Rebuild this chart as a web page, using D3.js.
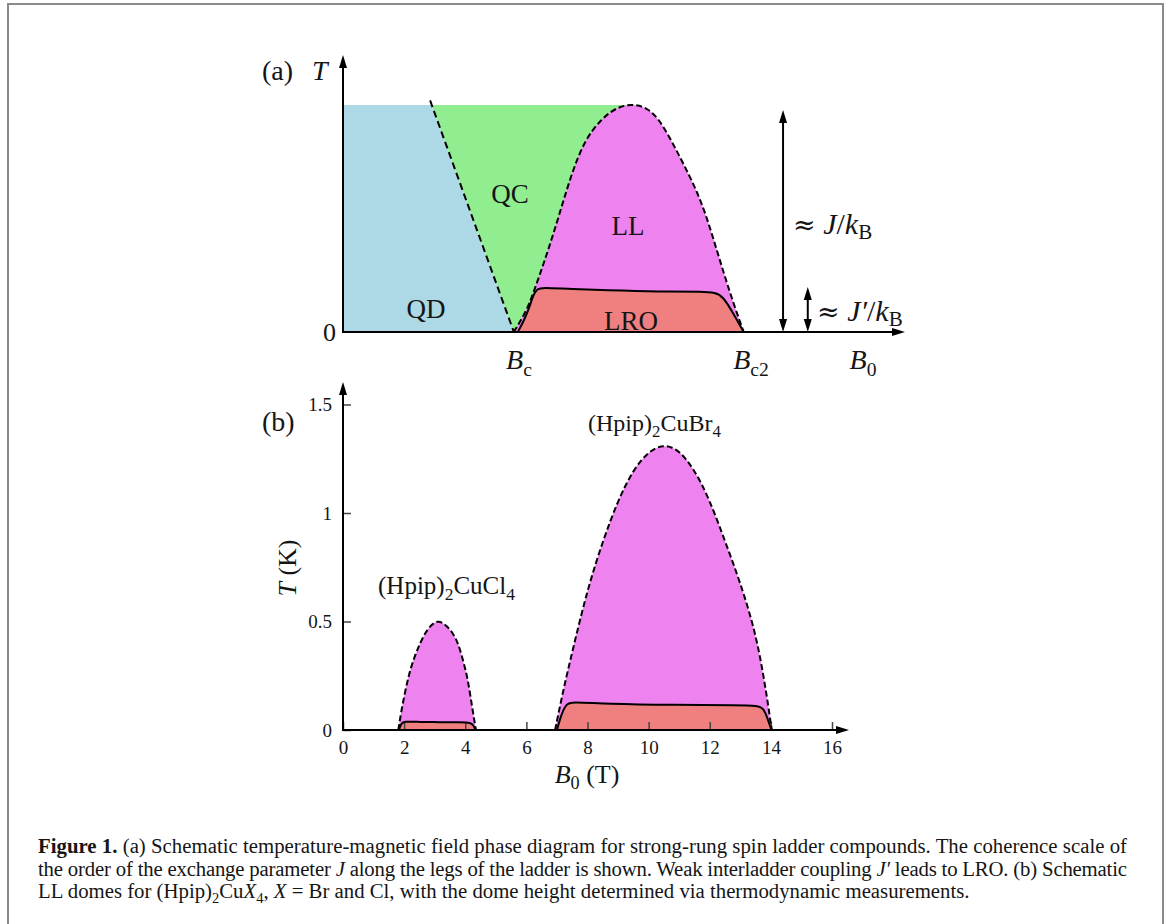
<!DOCTYPE html>
<html>
<head>
<meta charset="utf-8">
<script src="https://cdn.jsdelivr.net/npm/d3@7"></script>
<style>
	body { margin: 0; background: #fff; }
	svg text { font-family: "Liberation Serif", "DejaVu Serif", serif; fill: #151515; }
</style>
</head>
<body>
<svg id="fig" width="1167" height="924"></svg>
<script>
// ---- panel (a): schematic phase diagram, field and temperature in arbitrary units ----
const aBc = 0.304;
const aTop = 1;
const aCrossover = [[0.155, 1.02], [0.304, 0]];
const aDome = [[0.304, 0], [0.316, 0.05], [0.33, 0.111], [0.351, 0.258], [0.371, 0.405], [0.389, 0.552],
	[0.407, 0.699], [0.43, 0.846], [0.46, 0.94], [0.487, 0.99], [0.514, 1.005], [0.54, 0.99],
	[0.562, 0.94], [0.585, 0.84], [0.606, 0.74], [0.63, 0.62], [0.648, 0.5], [0.664, 0.37],
	[0.68, 0.24], [0.697, 0.11], [0.713, 0]];
const aLRO = [[0.311, 0], [0.322, 0.05], [0.332, 0.11], [0.338, 0.16], [0.345, 0.19], [0.355, 0.196],
	[0.4, 0.19], [0.5, 0.182], [0.58, 0.177], [0.64, 0.178], [0.662, 0.174], [0.676, 0.158],
	[0.695, 0.08], [0.713, 0]];
const aScaleArrows = [{ x: 0.783, t: 0.978 }, { x: 0.827, t: 0.198 }];

// ---- panel (b): LL domes of (Hpip)2CuX4 ----
const bXTicks = [0, 2, 4, 6, 8, 10, 12, 14, 16];
const bYTicks = [0, 0.5, 1, 1.5];
const clDome = [[1.81, 0], [1.92, 0.1], [2.14, 0.25], [2.32, 0.33], [2.52, 0.4], [2.75, 0.465], [3.09, 0.512],
	[3.4, 0.48], [3.6, 0.445], [3.77, 0.4], [3.93, 0.32], [4.08, 0.24], [4.23, 0.1], [4.35, 0]];
const clLRO = [[1.83, 0], [1.9, 0.028], [1.97, 0.04], [2.5, 0.037], [3.2, 0.036], [3.8, 0.035],
	[4.2, 0.035], [4.28, 0.018], [4.34, 0]];
const brDome = [[6.94, 0], [7.2, 0.18], [7.5, 0.36], [8.0, 0.65], [8.5, 0.87], [9.0, 1.06], [9.5, 1.2],
	[10.0, 1.285], [10.5, 1.318], [11.0, 1.29], [11.5, 1.2], [12.0, 1.06], [12.5, 0.87], [13.0, 0.68],
	[13.5, 0.45], [13.8, 0.22], [14.03, 0]];
const brLRO = [[7.0, 0], [7.15, 0.075], [7.3, 0.118], [7.45, 0.13], [8.6, 0.12], [10.8, 0.115],
	[13.0, 0.115], [13.55, 0.112], [13.76, 0.102], [13.9, 0.05], [14.02, 0]];

const colors = { QD: "#add8e6", QC: "#90ee90", LL: "#ee82ee", LRO: "#f08080" };

const svg = d3.select("#fig");
svg.append("rect").attr("x", 8).attr("y", 4).attr("width", 1155).attr("height", 960)
	.attr("fill", "none").attr("stroke", "#8a8a8a").attr("stroke-width", 2);

// text made of pieces: plain strings, or {t, it, sub, b, size, font}
function rich(sel, x, y, parts, size, anchor, subShift = 0.24) {
	const t = sel.append("text").attr("x", x).attr("y", y)
		.attr("font-size", size).attr("text-anchor", anchor || "start");
	let shift = 0;
	parts.forEach(p => {
		if (typeof p === "string") p = { t: p };
		const target = p.sub ? size * subShift : 0;
		const s = t.append("tspan").text(p.t).attr("dy", target - shift);
		shift = target;
		if (p.sub) s.attr("font-size", size * 0.7);
		if (p.size) s.attr("font-size", p.size);
		if (p.font) s.attr("font-family", p.font);
		if (p.it) s.attr("font-style", "italic");
		if (p.b) s.attr("font-weight", "bold");
	});
	return t;
}

// filled triangular arrow head with its tip at (x, y)
function head(sel, x, y, dir, len = 12, half = 4) {
	let d;
	if (dir === "up") d = `M${x},${y}L${x - half},${y + len}L${x + half},${y + len}Z`;
	if (dir === "down") d = `M${x},${y}L${x - half},${y - len}L${x + half},${y - len}Z`;
	if (dir === "right") d = `M${x},${y}L${x - len},${y - half}L${x - len},${y + half}Z`;
	sel.append("path").attr("d", d).attr("fill", "#000");
}

// ================= panel (a) =================
const ga = svg.append("g");
const xA = d3.scaleLinear().domain([0, 1]).range([343, 905]);
const yA = d3.scaleLinear().domain([0, 1]).range([332, 105]);

const lineA = d3.line().x(d => xA(d[0])).y(d => yA(d[1]));
const curveA = d3.line().x(d => xA(d[0])).y(d => yA(d[1])).curve(d3.curveBasis);

// crossover line position at the top of the coloured region
const [c0, c1] = aCrossover;
const xCrossTop = c0[0] + (c1[0] - c0[0]) * (c0[1] - aTop) / (c0[1] - c1[1]);
const peak = aDome.reduce((m, d) => d[1] > m[1] ? d : m);

ga.append("path").attr("d", lineA([[0, 0], [0, aTop], [xCrossTop, aTop], [aBc, 0]]) + "Z")
	.attr("fill", colors.QD);
ga.append("path").attr("d", lineA([[xCrossTop, aTop], [aBc, 0], [peak[0], 0], [peak[0], aTop]]) + "Z")
	.attr("fill", colors.QC);
ga.append("path").attr("d", curveA(aDome) + "Z").attr("fill", colors.LL);
ga.append("path").attr("d", curveA(aLRO) + "Z").attr("fill", colors.LRO);

ga.append("path").attr("d", lineA(aCrossover)).attr("fill", "none")
	.attr("stroke", "#000").attr("stroke-width", 2).attr("stroke-dasharray", "7,4");
ga.append("path").attr("d", curveA(aDome)).attr("fill", "none")
	.attr("stroke", "#000").attr("stroke-width", 2).attr("stroke-dasharray", "6,3");
ga.append("path").attr("d", curveA(aLRO)).attr("fill", "none")
	.attr("stroke", "#000").attr("stroke-width", 2);

// axes with arrow heads
ga.append("line").attr("x1", xA(0)).attr("y1", yA(0)).attr("x2", xA(0)).attr("y2", yA(1.22) + 10)
	.attr("stroke", "#000").attr("stroke-width", 2);
head(ga, xA(0), yA(1.22), "up", 13, 4);
ga.append("line").attr("x1", xA(0) - 1).attr("y1", yA(0)).attr("x2", xA(1) - 10).attr("y2", yA(0))
	.attr("stroke", "#000").attr("stroke-width", 2);
head(ga, xA(1), yA(0), "right", 13, 4);

// double arrows for the energy scales
aScaleArrows.forEach(a => {
	ga.append("line").attr("x1", xA(a.x)).attr("x2", xA(a.x))
		.attr("y1", yA(a.t) + 10).attr("y2", yA(0) - 10)
		.attr("stroke", "#000").attr("stroke-width", 2);
	head(ga, xA(a.x), yA(a.t), "up", 13, 4);
	head(ga, xA(a.x), yA(0), "down", 13, 4);
});

rich(ga, 262, 80, ["(a)"], 28);
rich(ga, 312, 80, [{ t: "T", it: true }], 28);
rich(ga, 336, 341, ["0"], 26, "end");
rich(ga, 426, 318, ["QD"], 27, "middle");
rich(ga, 510, 203, ["QC"], 27, "middle");
rich(ga, 628, 235, ["LL"], 27, "middle");
rich(ga, 631, 330, ["LRO"], 27, "middle");
rich(ga, 519, 369, [{ t: "B", it: true }, { t: "c", sub: true }], 28, "middle");
rich(ga, 751, 369, [{ t: "B", it: true }, { t: "c2", sub: true }], 28, "middle");
rich(ga, 863, 369, [{ t: "B", it: true }, { t: "0", sub: true }], 28, "middle");
const approx = { t: "≈", font: "DejaVu Serif", size: 27 };
rich(ga, 793, 234, [approx, " ", { t: "J", it: true }, "/", { t: "k", it: true }, { t: "B", sub: true }], 30, "start", 0.17);
rich(ga, 817, 321, [approx, " ", { t: "J′", it: true }, "/", { t: "k", it: true }, { t: "B", sub: true }], 30, "start", 0.17);

// ================= panel (b) =================
const gb = svg.append("g");
const xB = d3.scaleLinear().domain([0, 16]).range([343, 832]);
const yB = d3.scaleLinear().domain([0, 1.5]).range([730, 404.5]);
const curveB = d3.line().x(d => xB(d[0])).y(d => yB(d[1])).curve(d3.curveBasis);

[[clDome, clLRO], [brDome, brLRO]].forEach(([dome, lro]) => {
	gb.append("path").attr("d", curveB(dome) + "Z").attr("fill", colors.LL);
	gb.append("path").attr("d", curveB(lro) + "Z").attr("fill", colors.LRO);
});

const xAxis = gb.append("g").attr("transform", `translate(0,${yB(0)})`)
	.call(d3.axisBottom(xB).tickValues(bXTicks).tickSizeInner(-8).tickSizeOuter(0).tickPadding(11));
const yAxis = gb.append("g").attr("transform", `translate(${xB(0)},0)`)
	.call(d3.axisLeft(yB).tickValues(bYTicks).tickSizeInner(-8).tickSizeOuter(0).tickPadding(11)
		.tickFormat(d => String(d)));
[xAxis, yAxis].forEach(ax => {
	ax.select(".domain").remove();
	ax.selectAll("line").attr("stroke", "#444").attr("stroke-width", 1.5);
	ax.selectAll("text").attr("font-size", 19).attr("font-family", "Liberation Serif").attr("fill", "#151515");
});

[[clDome, clLRO], [brDome, brLRO]].forEach(([dome, lro]) => {
	gb.append("path").attr("d", curveB(dome)).attr("fill", "none")
		.attr("stroke", "#000").attr("stroke-width", 2).attr("stroke-dasharray", "6,3");
	gb.append("path").attr("d", curveB(lro)).attr("fill", "none")
		.attr("stroke", "#000").attr("stroke-width", 2);
});

gb.append("line").attr("x1", xB(0)).attr("y1", yB(0)).attr("x2", xB(0)).attr("y2", 393)
	.attr("stroke", "#000").attr("stroke-width", 2);
head(gb, xB(0), 382, "up", 13, 4);
gb.append("line").attr("x1", xB(0) - 1).attr("y1", yB(0)).attr("x2", 838).attr("y2", yB(0))
	.attr("stroke", "#000").attr("stroke-width", 2);
head(gb, 849, yB(0), "right", 13, 4);

rich(gb, 262, 431, ["(b)"], 28);
rich(gb, 587, 783, [{ t: "B", it: true }, { t: "0", sub: true }, " (T)"], 26, "middle");
rich(gb, 0, 0, [{ t: "T", it: true }, " (K)"], 26, "middle")
	.attr("transform", "translate(296,568) rotate(-90)");
rich(gb, 378, 594, ["(Hpip)", { t: "2", sub: true }, "CuCl", { t: "4", sub: true }], 25);
rich(gb, 588, 431, ["(Hpip)", { t: "2", sub: true }, "CuBr", { t: "4", sub: true }], 24);

// ================= caption =================
const cap = svg.append("g");
const capX = 38, capSize = 18;
const capLines = [
	[{ t: "Figure 1.", b: true }, " (a) Schematic temperature-magnetic field phase diagram for strong-rung spin ladder compounds. The coherence scale of"],
	["the order of the exchange parameter ", { t: "J", it: true }, " along the legs of the ladder is shown. Weak interladder coupling ", { t: "J′", it: true }, " leads to LRO. (b) Schematic"],
	["LL domes for (Hpip)", { t: "2", sub: true }, "Cu", { t: "X", it: true }, { t: "4", sub: true }, ", ", { t: "X", it: true }, " = Br and Cl, with the dome height determined via thermodynamic measurements."]
];
const capTexts = capLines.map((parts, i) => rich(cap, capX, 853 + i * 22.6, parts, capSize));
// the last line is unjustified: it sets the font size; the first two are justified to the column
const k = 932 / capTexts[2].node().getComputedTextLength();
capTexts.forEach((t, i) => {
	t.attr("font-size", capSize * k);
	t.selectAll("tspan").each(function () {
		const s = d3.select(this);
		if (s.attr("font-size")) s.attr("font-size", +s.attr("font-size") * k);
	});
	if (i < 2) t.attr("textLength", 1089).attr("lengthAdjust", "spacing");
});
</script>
</body>
</html>
